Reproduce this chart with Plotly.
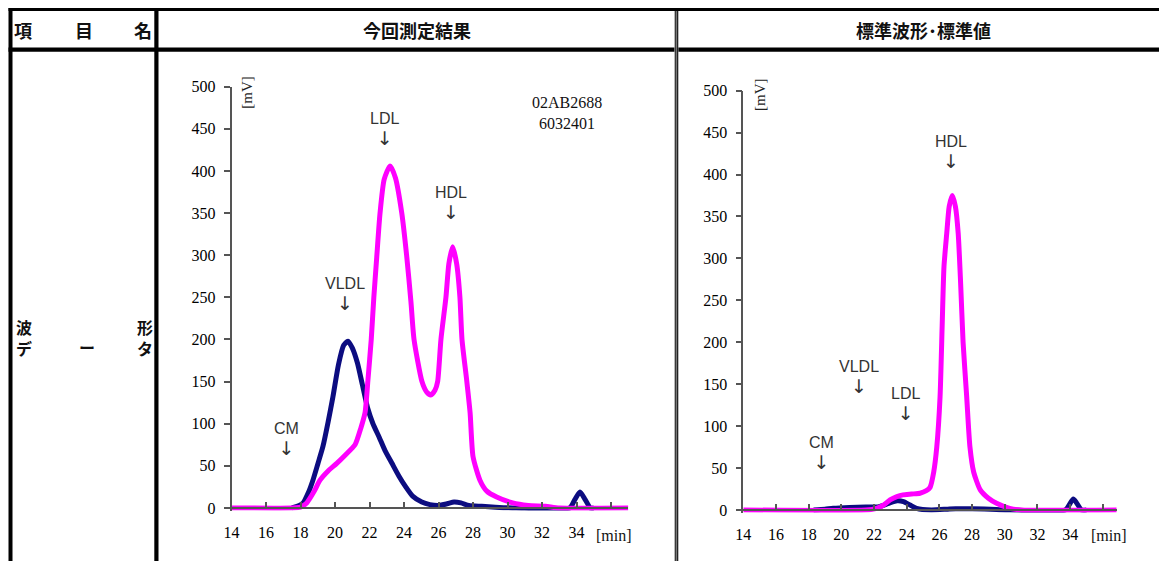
import plotly.graph_objects as go

# ---------------- data ----------------
# 今回測定結果 (current measurement)
cur_pink_x = [14, 17.5, 18.0, 18.36, 18.8, 19.13, 19.6, 20.1, 20.6, 21.16, 21.5, 21.74, 21.91, 22.1, 22.25,
              22.42, 22.61, 22.85, 23.19, 23.5, 23.87, 24.16, 24.4, 24.58, 25.04, 25.3, 25.55, 25.8, 25.95,
              26.14, 26.43, 26.6, 26.82, 27.05, 27.24, 27.36, 27.63, 27.83, 28.0, 28.4, 28.8, 29.37, 30.3,
              31.2, 32.2, 33.0, 37.0]
cur_pink_y = [0, 0, 1, 6, 20, 33, 44, 53, 63, 75, 95, 113, 152, 200, 250,
              298, 350, 390, 406, 392, 350, 298, 245, 200, 150, 138, 134, 140, 150,
              200, 250, 290, 310, 290, 250, 200, 152, 113, 61, 33, 20, 13, 6,
              3, 2, 0, 0]
cur_navy_x = [17.5, 17.8, 18.15, 18.45, 18.72, 19.0, 19.3, 19.6, 19.88, 20.2, 20.5, 20.75, 21.0, 21.3, 21.6,
              21.9, 22.2, 22.56, 22.9, 23.3, 23.7, 24.1, 24.5, 25.03, 25.5, 26.0, 26.5, 26.9, 27.3, 27.76,
              28.5, 29.3, 30.5, 33.6, 33.9, 34.2, 34.5, 34.8, 35.0]
cur_navy_y = [0, 2, 6, 18, 33, 52, 73, 102, 132, 170, 193, 198, 190, 172, 145,
              118, 100, 84, 68, 53, 38, 25, 14, 7, 4, 3, 5, 7, 6, 3,
              2, 1, 0, 0, 10, 19, 10, 0, 0]

# 標準波形・標準値 (standard waveform)
std_pink_x = [14, 21.5, 22.16, 22.6, 22.98, 23.4, 23.77, 24.3, 24.81, 25.2, 25.43, 25.65, 25.84, 26.04, 26.17,
              26.28, 26.45, 26.6, 26.79, 26.98, 27.15, 27.3, 27.45, 27.67, 27.87, 28.1, 28.5, 29.0, 29.5,
              30.3, 31.0, 36.85]
std_pink_y = [0, 0, 2, 6, 12, 16, 18, 19, 20, 23, 27, 45, 75, 135, 220,
              290, 330, 362, 375, 362, 330, 270, 200, 135, 75, 45, 24, 14, 8,
              2, 0, 0]
std_navy_x = [18.3, 19.0, 19.5, 20.5, 21.5, 22.3, 22.9, 23.4, 23.8, 24.2, 24.6, 25.5, 26.5, 27.0, 28.0, 29.5,
              30.3, 33.7, 34.2, 34.7, 35.0]
std_navy_y = [0, 1, 2, 3, 3.5, 4, 8, 11, 10, 6, 2, 0, 1, 1.5, 1.5, 0.5,
              0, 0, 13, 0, 0]

y_ticks = list(range(0, 501, 50))
x_tickvals = list(range(14, 37, 2))
x_ticktext = [str(v) for v in range(14, 35, 2)] + [""]

header_texts = ["今回測定結果", "標準波形･標準値"]
sample_ids = ["02AB2688", "6032401"]

# ---------------- layout helpers ----------------
# the page adds an 8px body margin; the figure is sized so that the page is 1167x569
OX, OY = 8, 8
W, H = 1167 - OX, 569 - 2 * OY
def px(x): return (x - OX) / W
def py(y): return 1 - (y - OY) / H

PINK = "#ff00ff"
NAVY = "#0c0c80"
AX = "#555555"
SERIF = "Liberation Serif"
SANS = "Liberation Sans"
CJK = "Noto Sans CJK JP"

fig = go.Figure()
line_w = 5
for xs, ys, c, xa, ya in [(cur_navy_x, cur_navy_y, NAVY, "x", "y"), (cur_pink_x, cur_pink_y, PINK, "x", "y"),
                          (std_navy_x, std_navy_y, NAVY, "x2", "y2"), (std_pink_x, std_pink_y, PINK, "x2", "y2")]:
    fig.add_trace(go.Scatter(x=xs, y=ys, mode="lines", xaxis=xa, yaxis=ya,
                             line=dict(color=c, width=line_w, shape="spline", smoothing=0.6), hoverinfo="skip"))

tickfont = dict(family=SERIF, size=16, color="#000000")

def xaxis(dom, rng, pos):
    return dict(domain=dom, range=rng, anchor="free", position=pos, showline=True, linecolor=AX, linewidth=1.5,
                ticks="inside", ticklen=5, tickwidth=1.5, tickcolor=AX, tickvals=x_tickvals, ticktext=x_ticktext,
                showgrid=False, zeroline=False, tickfont=tickfont, ticklabelstandoff=10, fixedrange=True,
                automargin=False)

def yaxis(dom, anchor):
    return dict(domain=dom, range=[-3, 500], anchor=anchor, showline=True, linecolor=AX, linewidth=1.5,
                ticks="outside", ticklen=6, tickwidth=1.5, tickcolor=AX, tickvals=y_ticks,
                showgrid=False, zeroline=False, tickfont=tickfont, ticklabelstandoff=5, fixedrange=True,
                automargin=False)

fig.update_layout(
    template="none",
    width=W, height=H, margin=dict(l=0, r=0, t=0, b=0, pad=0, autoexpand=False), autosize=False,
    paper_bgcolor="white", plot_bgcolor="white", showlegend=False,
    xaxis=xaxis([px(231.5), px(628.3)], [14, 37], py(508)),
    yaxis=yaxis([py(510.5), py(86.7)], "x"),
    xaxis2=xaxis([px(743.3), px(1116.7)], [14, 36.85], py(510)),
    yaxis2=yaxis([py(512.5), py(90.7)], "x2"),
)

ann = []
def A(text, x, y, xref, yref, font, **kw):
    d = dict(text=text, x=x, y=y, xref=xref, yref=yref, showarrow=False, font=font,
             xanchor=kw.pop("xanchor", "center"), yanchor=kw.pop("yanchor", "middle"))
    d.update(kw)
    ann.append(d)

hfont = dict(family=CJK, size=18, color="#111111")
A("<b>項</b>", px(23.5), py(29.5), "paper", "paper", hfont)
A("<b>目</b>", px(84), py(29.5), "paper", "paper", hfont)
A("<b>名</b>", px(142.5), py(29.5), "paper", "paper", hfont)
A("<b>" + header_texts[0] + "</b>", px(417), py(29.5), "paper", "paper", hfont)
A("<b>" + header_texts[1] + "</b>", px(923), py(29.5), "paper", "paper", hfont)
bfont = dict(family=CJK, size=16, color="#111111")
A("<b>波<br>デ</b>", px(24), py(337), "paper", "paper", bfont)
A("<b>形<br>タ</b>", px(144.5), py(337), "paper", "paper", bfont)
A("<b>ー</b>", px(87), py(347), "paper", "paper", bfont)

lfont = dict(family=SANS, size=16, color="#333333")
arrow = "<span style='font-size:19px;font-family:DejaVu Sans'>↓</span>"
for name, xv, ymid in [("LDL", 22.86, 449), ("HDL", 26.74, 361), ("VLDL", 20.57, 253), ("CM", 17.2, 81)]:
    A(name + "<br>" + arrow, xv, ymid, "x", "y", lfont)
for name, xv, ymid in [("HDL", 26.7, 426), ("VLDL", 21.06, 158), ("LDL", 23.94, 126), ("CM", 18.79, 67)]:
    A(name + "<br>" + arrow, xv, ymid, "x2", "y2", lfont)

sfont = dict(family=SERIF, size=16, color="#111111")
A(sample_ids[0] + "<br>" + sample_ids[1], px(567), py(112.5), "paper", "paper", sfont)
A("[mV]", px(246.7), py(92), "paper", "paper", dict(family=SERIF, size=15, color="#222222"), textangle=-90)
A("[mV]", px(760), py(95), "paper", "paper", dict(family=SERIF, size=15, color="#222222"), textangle=-90)
A("[min]", px(614), py(535), "paper", "paper", sfont)
A("[min]", px(1108.5), py(535), "paper", "paper", sfont)
fig.update_layout(annotations=ann)

shapes = []
def R(x0, y0, x1, y1, color):
    shapes.append(dict(type="rect", xref="paper", yref="paper", x0=px(x0), x1=px(x1), y0=py(y1), y1=py(y0),
                       fillcolor=color, line=dict(width=0), layer="above"))
R(8.5, 7, 1167, 11, "#000000")
R(8.5, 47.5, 1167, 51.8, "#000000")
R(8.5, 7, 12.5, 569, "#000000")
R(154.3, 7, 158.5, 569, "#000000")
R(674.3, 11, 678.5, 569, "#9a9a9a")
R(675.2, 11, 676.3, 569, "#222222")
R(677.0, 11, 678.1, 569, "#222222")
fig.update_layout(shapes=shapes)

fig.write_html("out.html", config={"displayModeBar": False})
